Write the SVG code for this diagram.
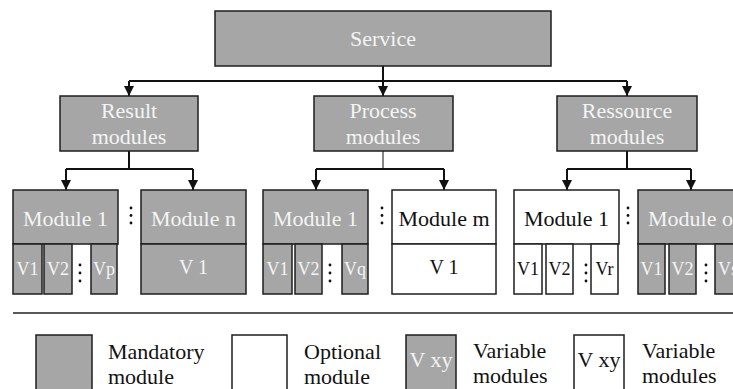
<svg xmlns="http://www.w3.org/2000/svg" width="733" height="389" viewBox="0 0 733 389">
<style>
.g{fill:#a6a6a6;stroke:#1e1e1e;stroke-width:1.5}
.w{fill:#ffffff;stroke:#1e1e1e;stroke-width:1.5}
text{font-family:'Liberation Serif','Times New Roman','DejaVu Serif',serif}
.t{font-size:22px;text-anchor:middle}
.lt{fill:#f4f4f4}
.dk{fill:#111111}
.v{font-size:18px;text-anchor:middle}
.lg{font-size:22px;fill:#111111}
.c{fill:none;stroke:#111111;stroke-width:2}
.ct{fill:none;stroke:#111111;stroke-width:1}
.d{fill:#111111}
</style>
<defs>
<marker id="ah" markerUnits="userSpaceOnUse" markerWidth="10" markerHeight="10" refX="10" refY="5" orient="auto" viewBox="0 0 10 10">
<path d="M0,0 L10,5 L0,10 Z" fill="#111111"/>
</marker>
</defs>

<g id="connectors">
<path class="c" d="M383,66 V81 M129,81 H627"/>
<path class="c" d="M129,81 V96" marker-end="url(#ah)"/>
<path class="c" d="M383,81 V96" marker-end="url(#ah)"/>
<path class="c" d="M627,81 V96" marker-end="url(#ah)"/>
<path class="c" d="M129,151 V169 M66,169 H193"/>
<path class="c" d="M66,169 V190" marker-end="url(#ah)"/>
<path class="c" d="M193,169 V190" marker-end="url(#ah)"/>
<path class="ct" d="M383,151 V169"/>
<path class="c" d="M316,169 H444"/>
<path class="c" d="M316,169 V190" marker-end="url(#ah)"/>
<path class="c" d="M444,169 V190" marker-end="url(#ah)"/>
<path class="c" d="M627,151 V169 M567,169 H691"/>
<path class="c" d="M567,169 V190" marker-end="url(#ah)"/>
<path class="c" d="M691,169 V190" marker-end="url(#ah)"/>
</g>

<g id="service">
<rect class="g" x="215" y="11" width="336" height="55"/>
<text class="t lt" x="383" y="46">Service</text>
</g>

<g id="result">
<rect class="g" x="60" y="96" width="138" height="55"/>
<text class="t lt" x="129" y="118">Result</text>
<text class="t lt" x="129" y="144">modules</text>
</g>
<g id="process">
<rect class="g" x="314" y="96" width="139" height="55"/>
<text class="t lt" x="383" y="118">Process</text>
<text class="t lt" x="383" y="144">modules</text>
</g>
<g id="ressource">
<rect class="g" x="557" y="96" width="140" height="55"/>
<text class="t lt" x="627" y="118">Ressource</text>
<text class="t lt" x="627" y="144">modules</text>
</g>

<g id="result-module-1">
<rect class="g" x="13" y="190" width="105" height="54"/>
<text class="t lt" x="65.5" y="226">Module 1</text>
<rect class="g" x="13" y="244" width="29" height="50"/>
<rect class="g" x="44" y="244" width="28" height="50"/>
<rect class="g" x="91" y="244" width="26" height="50"/>
<text class="v lt" x="27.5" y="275">V1</text>
<text class="v lt" x="58" y="275">V2</text>
<text class="v lt" x="104" y="275">Vp</text>
<circle class="d" cx="80" cy="265" r="1.4"/><circle class="d" cx="80" cy="273" r="1.4"/><circle class="d" cx="80" cy="281" r="1.4"/>
</g>
<g id="result-dots">
<circle class="d" cx="131" cy="208" r="1.4"/><circle class="d" cx="131" cy="215.5" r="1.4"/><circle class="d" cx="131" cy="223" r="1.4"/>
</g>
<g id="result-module-n">
<rect class="g" x="141" y="190" width="105" height="54"/>
<text class="t lt" x="193.5" y="226">Module n</text>
<rect class="g" x="141" y="244" width="105" height="50"/>
<text class="t lt" x="193.5" y="274" style="font-size:20px">V 1</text>
</g>

<g id="process-module-1">
<rect class="g" x="263" y="190" width="105" height="54"/>
<text class="t lt" x="315.5" y="226">Module 1</text>
<rect class="g" x="263" y="244" width="29" height="50"/>
<rect class="g" x="295" y="244" width="27" height="50"/>
<rect class="g" x="342" y="244" width="26" height="50"/>
<text class="v lt" x="277.5" y="275">V1</text>
<text class="v lt" x="308.5" y="275">V2</text>
<text class="v lt" x="355" y="275">Vq</text>
<circle class="d" cx="330" cy="265" r="1.4"/><circle class="d" cx="330" cy="273" r="1.4"/><circle class="d" cx="330" cy="281" r="1.4"/>
</g>
<g id="process-dots">
<circle class="d" cx="382" cy="208" r="1.4"/><circle class="d" cx="382" cy="215.5" r="1.4"/><circle class="d" cx="382" cy="223" r="1.4"/>
</g>
<g id="process-module-m">
<rect class="w" x="392" y="190" width="104" height="54"/>
<text class="t dk" x="444" y="226">Module m</text>
<rect class="w" x="392" y="244" width="104" height="50"/>
<text class="t dk" x="444" y="274" style="font-size:20px">V 1</text>
</g>

<g id="ressource-module-1">
<rect class="w" x="514" y="190" width="105" height="54"/>
<text class="t dk" x="566.5" y="226">Module 1</text>
<rect class="w" x="514" y="244" width="28" height="50"/>
<rect class="w" x="546" y="244" width="27" height="50"/>
<rect class="w" x="591" y="244" width="27" height="50"/>
<text class="v dk" x="528" y="275">V1</text>
<text class="v dk" x="559.5" y="275">V2</text>
<text class="v dk" x="604.5" y="275">Vr</text>
<circle class="d" cx="586" cy="265" r="1.4"/><circle class="d" cx="586" cy="273" r="1.4"/><circle class="d" cx="586" cy="281" r="1.4"/>
</g>
<g id="ressource-dots">
<circle class="d" cx="628" cy="208" r="1.4"/><circle class="d" cx="628" cy="215.5" r="1.4"/><circle class="d" cx="628" cy="223" r="1.4"/>
</g>
<g id="ressource-module-o">
<rect class="g" x="638" y="190" width="105" height="54"/>
<text class="t lt" x="690.5" y="226">Module o</text>
<rect class="g" x="638" y="244" width="27" height="50"/>
<rect class="g" x="669" y="244" width="27" height="50"/>
<rect class="g" x="715" y="244" width="28" height="50"/>
<text class="v lt" x="651.5" y="275">V1</text>
<text class="v lt" x="682.5" y="275">V2</text>
<text class="v lt" x="718" y="275" style="text-anchor:start">Vs</text>
<circle class="d" cx="706" cy="265" r="1.4"/><circle class="d" cx="706" cy="273" r="1.4"/><circle class="d" cx="706" cy="281" r="1.4"/>
</g>

<g id="legend">
<line x1="13" y1="313" x2="733" y2="313" stroke="#222222" stroke-width="1.5"/>
<rect class="g" x="36" y="335" width="56" height="60"/>
<text class="lg" x="108" y="359">Mandatory</text>
<text class="lg" x="108" y="384">module</text>
<rect class="w" x="232" y="335" width="55" height="60"/>
<text class="lg" x="304" y="359">Optional</text>
<text class="lg" x="304" y="384">module</text>
<rect class="g" x="406" y="335" width="50" height="60"/>
<text class="t lt" x="431" y="367">V xy</text>
<text class="lg" x="473" y="358">Variable</text>
<text class="lg" x="473" y="383">modules</text>
<rect class="w" x="574" y="335" width="50" height="60"/>
<text class="t dk" x="599" y="367">V xy</text>
<text class="lg" x="642" y="358">Variable</text>
<text class="lg" x="642" y="383">modules</text>
</g>
</svg>
